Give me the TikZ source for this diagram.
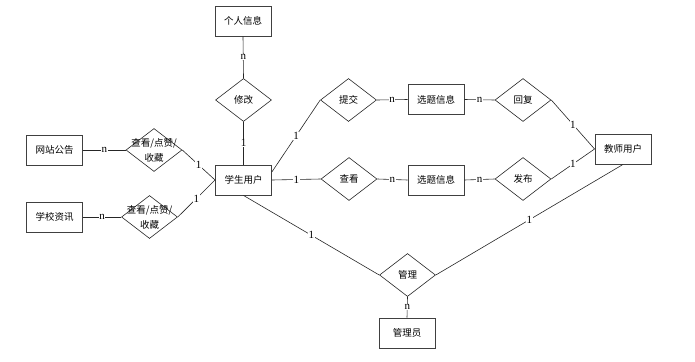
\documentclass[tikz,border=0pt]{standalone}
\usepackage{fontspec}
\setmainfont{Liberation Serif}
\newfontfamily\cjk{Noto Sans CJK SC}
\usetikzlibrary{shapes.geometric}
\begin{document}
\begin{tikzpicture}[x=1pt,y=-1pt,
  ent/.style={draw=black!75, line width=0.9pt, minimum width=56pt, minimum height=30pt, inner sep=0pt, font=\cjk\fontsize{9.5}{11}\selectfont},
  rel/.style={diamond, draw=black!85, line width=0.6pt, minimum width=56pt, minimum height=43pt, inner sep=0pt},
  rtext/.style={font=\cjk\fontsize{9.5}{15}\selectfont, align=center, inner sep=0pt},
  card/.style={fill=white, inner sep=0.5pt, font=\fontsize{11}{11}\selectfont},
  conn/.style={line width=0.6pt, draw=black!85}
]
\useasboundingbox (0,0) rectangle (695,361);

% entities
\node[ent] (grxx) at (243,21) {个人信息};
\node[ent] (wzgg) at (54.5,150) {网站公告};
\node[ent] (stu) at (243.5,180) {学生用户};
\node[ent] (xxzx) at (54.5,217) {学校资讯};
\node[ent] (xt1) at (436,99.5) {选题信息};
\node[ent] (xt2) at (436,180) {选题信息};
\node[ent] (tea) at (623,149) {教师用户};
\node[ent] (gly) at (407,333) {管理员};

% relationships
\node[rel, label={[rtext]center:修改}] (xg) at (243.5,100) {};
\node[rel, label={[rtext]center:查看/点赞/\\收藏}] (ck1) at (154,150) {};
\node[rel, label={[rtext]center:查看/点赞/\\收藏}] (ck2) at (149.5,217) {};
\node[rel, label={[rtext]center:提交}] (tj) at (348.5,100) {};
\node[rel, label={[rtext]center:查看}] (ck3) at (349,179) {};
\node[rel, label={[rtext]center:回复}] (hf) at (523,100) {};
\node[rel, label={[rtext]center:发布}] (fb) at (523,179) {};
\node[rel, label={[rtext]center:管理}] (gl) at (407.5,275) {};

% connectors
\draw[conn] (grxx.south) -- node[card]{n} (xg.north);
\draw[conn] (xg.south) -- node[card]{1} (stu.north);
\draw[conn] (wzgg.east) -- node[card]{n} (ck1.west);
\draw[conn] (ck1.east) -- node[card]{1} (stu.west);
\draw[conn] (xxzx.east) -- node[card]{n} (ck2.west);
\draw[conn] (ck2.east) -- node[card]{1} (stu.west);
\draw[conn] (stu.16) -- node[card]{1} (tj.west);
\draw[conn] (stu.east) -- node[card]{1} (ck3.west);
\draw[conn] (tj.east) -- node[card]{n} (xt1.west);
\draw[conn] (ck3.east) -- node[card]{n} (xt2.west);
\draw[conn] (xt1.east) -- node[card]{n} (hf.west);
\draw[conn] (xt2.east) -- node[card]{n} (fb.west);
\draw[conn] (hf.east) -- node[card]{1} (tea.west);
\draw[conn] (fb.east) -- node[card]{1} (tea.west);
\draw[conn] (stu.south) -- node[card]{1} (gl.west);
\draw[conn] (tea.south) -- node[card]{1} (gl.east);
\draw[conn] (gl.south) -- node[card]{n} (gly.north);
\end{tikzpicture}
\end{document}
